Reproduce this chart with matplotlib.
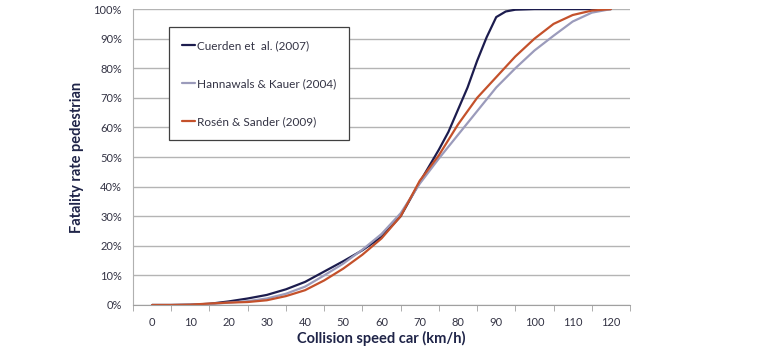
import numpy as np
import matplotlib.pyplot as plt

# Données (vitesse en km/h, taux en %)
speed = [0, 5, 10, 15, 20, 25, 30, 35, 40, 45, 50, 55, 60,
         65, 70, 75, 80, 85, 90, 95, 100, 105, 110, 115, 120]
# Cuerden : plus de lectures autour du coude (80-95 km/h)
speed_cuerden = [0, 5, 10, 15, 20, 25, 30, 35, 40, 45, 50, 55, 60, 65, 70,
                 72.5, 75, 77.5, 80, 82.5, 85, 87.5, 90, 92.5, 95,
                 100, 105, 110, 115, 120]
cuerden = [0, 0, 0.1, 0.4, 1.2, 2.2, 3.4, 5.3, 7.8, 11.3, 14.8, 18.5, 23, 30, 41.5,
           47, 52.5, 58.5, 66, 73.5, 82.5, 90.5, 97.3, 99.2, 99.8,
           100, 100, 100, 100, 100]
hannawals = [0, 0, 0.1, 0.3, 0.8, 1.3, 2.2, 3.8, 6.2, 10, 14, 18.7, 24,
             31, 41, 49.5, 57.5, 65.5, 73.5, 80, 86, 91, 95.8, 98.8, 100]
rosen = [0, 0, 0.1, 0.5, 0.8, 1.0, 1.6, 3.0, 5.0, 8.3, 12.3, 17, 22.5,
         30, 42, 50.6, 61, 70, 77, 84, 90, 95, 98, 99.5, 100]

labels = ["Cuerden et  al. (2007)", "Hannawals & Kauer (2004)", "Rosén & Sander (2009)"]
colors = ["#1c1c4e", "#9b9bbb", "#c4512b"]

plt.rcParams['font.family'] = ['Lato', 'DejaVu Sans']

fig = plt.figure(figsize=(7.6, 3.5), dpi=100)
ax = fig.add_axes([0.175, 0.1286, 0.654, 0.8454])

series = [(speed_cuerden, cuerden), (speed, hannawals), (speed, rosen)]
for (x, serie), lab, col in zip(series, labels, colors):
    ax.plot(x, serie, color=col, lw=1.6, label=lab,
            solid_capstyle='round', solid_joinstyle='round')

ax.set_xlim(-5, 125)
ax.set_ylim(0, 100)

# Grille horizontale
ax.set_yticks(np.arange(0, 101, 10))
ax.set_yticklabels([f"{v}%" for v in range(0, 101, 10)])
ax.yaxis.grid(True, color="#b4b4b4", lw=1)
ax.set_axisbelow(True)
ax.tick_params(axis='y', length=0, pad=8, labelsize=8, labelcolor="#333344")

# Axe des x : étiquettes au centre, graduations aux bords des catégories
ax.set_xticks(np.arange(0, 121, 10))
ax.set_xticks(np.arange(-5, 126, 10), minor=True)
ax.tick_params(axis='x', which='major', length=0, pad=9, labelsize=8, labelcolor="#333344")
ax.tick_params(axis='x', which='minor', length=4, color="#a0a0a0", direction='out')

for s in ['top', 'right']:
    ax.spines[s].set_visible(False)
ax.spines['left'].set_color("#b0b0b0")
ax.spines['bottom'].set_color("#a0a0a0")

ax.set_xlabel("Collision speed car (km/h)", fontsize=10.5, fontweight='bold',
              color="#1f2448", labelpad=2)
ax.set_ylabel("Fatality rate pedestrian", fontsize=10.5, fontweight='bold',
              color="#1f2448", labelpad=7)

leg = ax.legend(loc='upper left', bbox_to_anchor=(0.072, 0.94), fontsize=8.5,
                handlelength=1.1, handletextpad=0.15, labelspacing=2.3,
                borderpad=1.1, fancybox=False, framealpha=1,
                edgecolor="#404040", borderaxespad=0)
leg.get_frame().set_linewidth(0.9)
for t in leg.get_texts():
    t.set_color("#333344")

fig.savefig("out.png", dpi=100)
